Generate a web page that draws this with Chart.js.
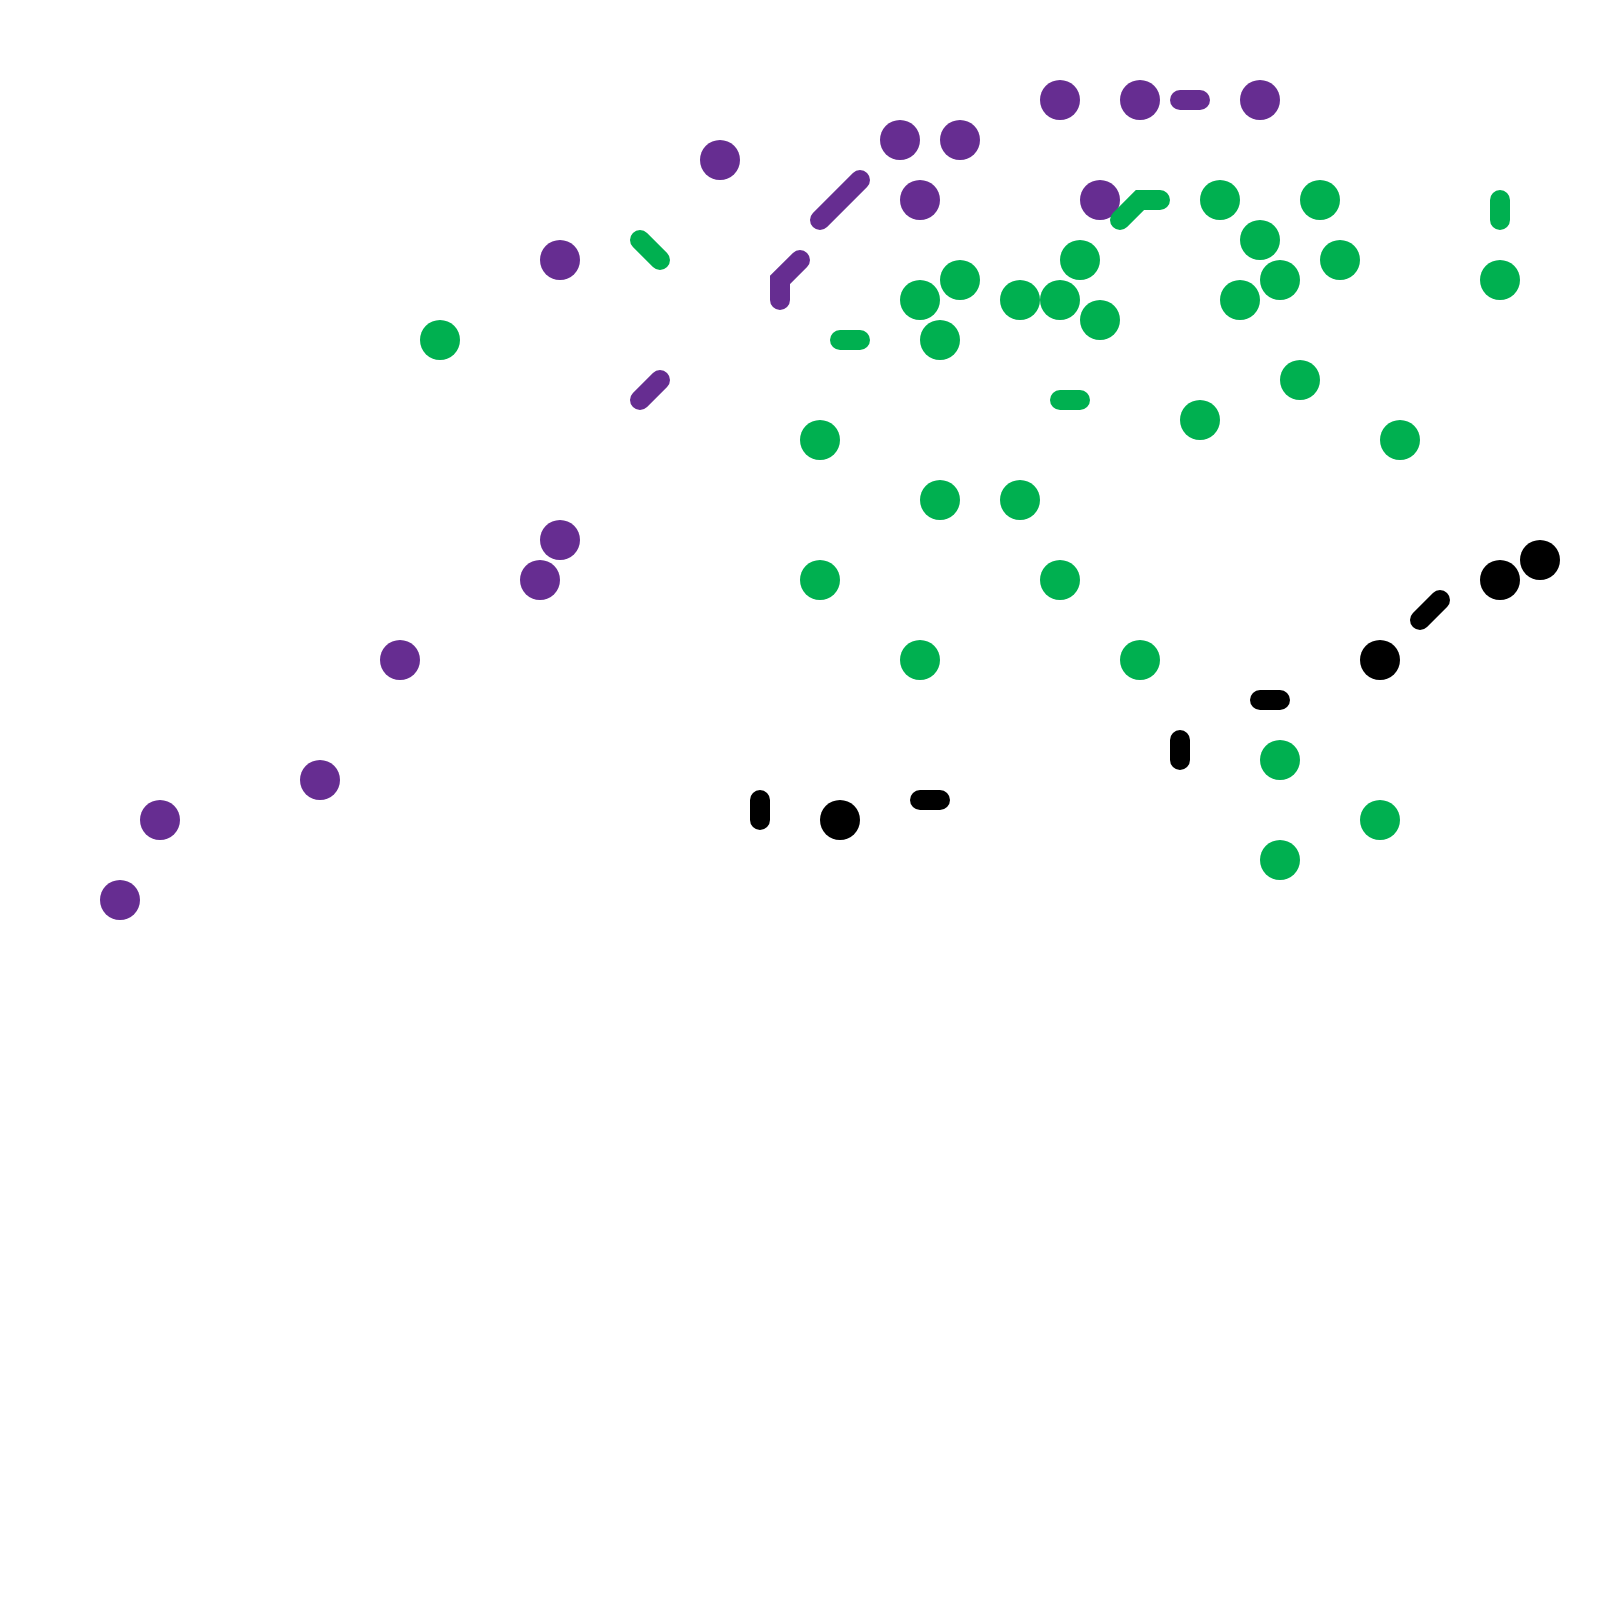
<!DOCTYPE html>
<html>
<head>
<meta charset="utf-8">
<title>Dots and dashes</title>
<script src="https://cdn.jsdelivr.net/npm/chart.js@4.4.1/dist/chart.umd.min.js"></script>
<style>
  body { margin: 0; background: #fff; }
  canvas { display: block; }
</style>
</head>
<body>
<canvas id="chart" width="1600" height="1600"></canvas>
<script>
// grid units, 0..80 on both axes (y grows downward)
const purpleX = [6, 8, 16, 20, 27, 28, 28, 36, 45, 48, 46, 53, 57, 63, 55];
const purpleY = [45, 41, 39, 33, 29, 27, 13, 8, 7, 7, 10, 5, 5, 5, 10];

const greenX = [22, 41, 41, 46, 48, 47, 51, 53, 54, 55, 61, 63, 64, 62, 66, 67, 75, 65, 60, 70, 47, 51, 53, 46, 57, 64, 69, 64];
const greenY = [17, 22, 29, 15, 14, 17, 15, 15, 13, 16, 10, 12, 14, 15, 10, 13, 14, 19, 21, 22, 25, 25, 29, 33, 33, 38, 41, 43];

const blackX = [42, 69, 75, 77];
const blackY = [41, 33, 29, 28];

// short line pieces, each a list of [x, y]
const purpleLines = [
  [[41, 11], [42, 10], [43, 9]],
  [[39, 15], [39, 14], [40, 13]],
  [[32, 20], [33, 19]],
  [[59, 5], [60, 5]]
];
const greenLines = [
  [[32, 12], [33, 13]],
  [[42, 17], [43, 17]],
  [[53, 20], [54, 20]],
  [[56, 11], [57, 10], [58, 10]],
  [[75, 10], [75, 11]]
];
const blackLines = [
  [[38, 40], [38, 41]],
  [[46, 40], [47, 40]],
  [[59, 37], [59, 38]],
  [[63, 35], [64, 35]],
  [[71, 31], [72, 30]]
];

const PURPLE = '#662d91';
const GREEN = '#00b050';
const BLACK = '#000000';

function dots(xs, ys, color) {
  return {
    type: 'scatter',
    data: xs.map((x, i) => ({ x: x, y: ys[i] })),
    backgroundColor: color,
    borderWidth: 0,
    pointRadius: 20,
    pointHoverRadius: 20,
    order: 1
  };
}

function lines(paths, color) {
  return paths.map(p => ({
    type: 'line',
    data: p.map(pt => ({ x: pt[0], y: pt[1] })),
    borderColor: color,
    borderWidth: 20,
    borderCapStyle: 'round',
    pointRadius: 0,
    pointHoverRadius: 0,
    fill: false,
    tension: 0,
    order: 0
  }));
}

const datasets = [
  ...lines(greenLines, GREEN),
  ...lines(purpleLines, PURPLE),
  ...lines(blackLines, BLACK),
  dots(purpleX, purpleY, PURPLE),
  dots(greenX, greenY, GREEN),
  dots(blackX, blackY, BLACK)
];

new Chart(document.getElementById('chart'), {
  type: 'scatter',
  data: { datasets: datasets },
  options: {
    responsive: false,
    animation: false,
    layout: { padding: 0, autoPadding: false },
    scales: {
      x: { type: 'linear', min: 0, max: 80, display: false },
      y: { type: 'linear', min: 0, max: 80, reverse: true, display: false }
    },
    plugins: {
      legend: { display: false },
      tooltip: { enabled: false }
    }
  }
});
</script>
</body>
</html>
